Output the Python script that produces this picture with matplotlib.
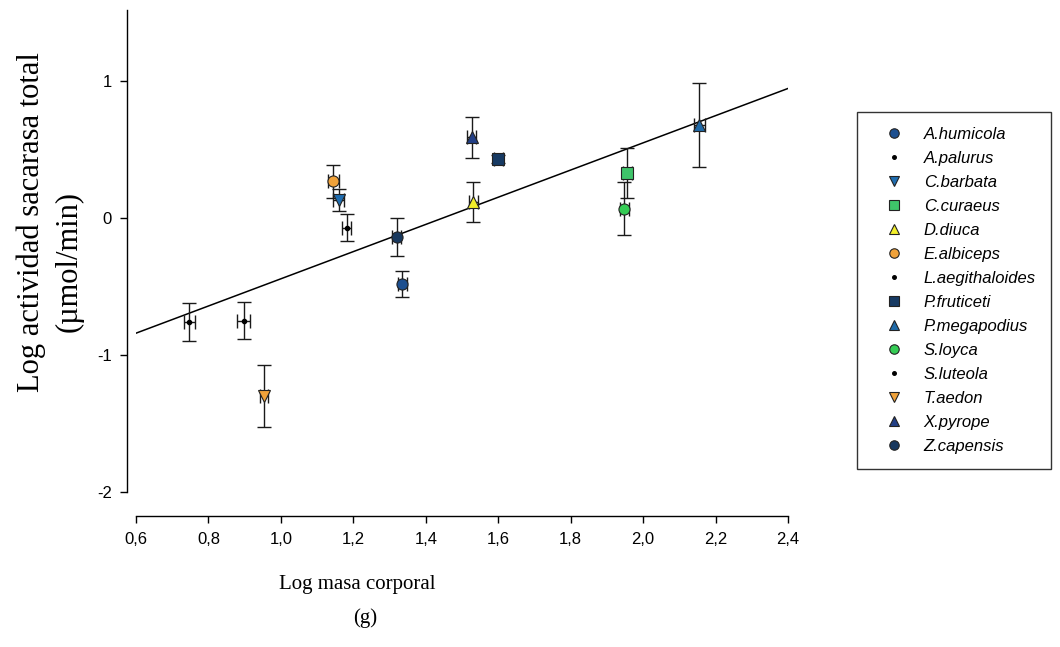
import matplotlib
matplotlib.use('Agg')
import matplotlib.pyplot as plt
import numpy as np

# species data
species = ['A.humicola', 'A.palurus', 'C.barbata', 'C.curaeus', 'D.diuca', 'E.albiceps',
	'L.aegithaloides', 'P.fruticeti', 'P.megapodius', 'S.loyca', 'S.luteola', 'T.aedon',
	'X.pyrope', 'Z.capensis']
log_mass = [1.335, 0.897, 1.160, 1.956, 1.531, 1.145, 0.747, 1.600, 2.155, 1.948, 1.182, 0.953, 1.527, 1.320]
log_act = [-0.48, -0.75, 0.13, 0.33, 0.12, 0.27, -0.76, 0.43, 0.68, 0.07, -0.07, -1.30, 0.59, -0.14]
err_act = [0.095, 0.136, 0.08, 0.185, 0.145, 0.12, 0.14, 0.03, 0.31, 0.195, 0.10, 0.225, 0.15, 0.14]
err_mass = [0.012, 0.018, 0.015, 0.012, 0.012, 0.015, 0.015, 0.012, 0.015, 0.012, 0.012, 0.012, 0.012, 0.012]
markers = ['o', '.', 'v', 's', '^', 'o', '.', 's', '^', 'o', '.', 'v', '^', 'o']
colors = ['#1d4f8f', 'black', '#1f6db0', '#3fc46a', '#f2ee2a', '#f0a23a', 'black', '#173a63',
	'#1f6aa8', '#35cc55', 'black', '#f0a23a', '#223f86', '#18385e']

# regression line
reg_x = [0.6, 2.4]
reg_slope = 0.993
reg_icpt = -1.436

plt.rcParams['font.family'] = ['Liberation Sans', 'DejaVu Sans']
fig = plt.figure(figsize=(10.6, 6.47), dpi=100)
ax = fig.add_axes([0.1283, 0.2396, 0.6151, 0.7449])

rx = np.array(reg_x)
ax.plot(rx, reg_icpt + reg_slope*rx, color='black', lw=1.1, zorder=1)

for i in range(len(species)):
	ax.errorbar(log_mass[i], log_act[i], yerr=err_act[i], xerr=err_mass[i], fmt='none',
		ecolor='#1a1a1a', elinewidth=1.0, capsize=5, capthick=1.0, zorder=2)
	if markers[i] == '.':
		ax.plot(log_mass[i], log_act[i], marker='o', ms=3, color='black', ls='none', zorder=3, label=species[i])
	else:
		ax.plot(log_mass[i], log_act[i], marker=markers[i], ms=8, mfc=colors[i], mec='#222222',
			mew=0.8, ls='none', zorder=3, label=species[i])

ax.set_xlim(0.6, 2.4)
ax.set_ylim(-2, 1.52)
ax.spines['top'].set_visible(False)
ax.spines['right'].set_visible(False)
ax.spines['left'].set_position(('outward', 6.5))
ax.spines['bottom'].set_position(('outward', 17))
ax.spines['left'].set_linewidth(1.0)
ax.spines['bottom'].set_linewidth(1.0)

xt = np.round(np.arange(0.6, 2.41, 0.2), 1)
ax.set_xticks(xt)
ax.set_xticklabels([f'{v:.1f}'.replace('.', ',') for v in xt])
yt = [-2, -1, 0, 1]
ax.set_yticks(yt)
ax.set_yticklabels([str(v) for v in yt])
ax.tick_params(direction='out', length=5, width=1, labelsize=12)
ax.tick_params(axis='x', pad=7)
ax.tick_params(axis='y', pad=6)

# axis titles placed as in the scanned figure
serif = ['Liberation Serif']
fig.text(357/1060, 1-585/647, 'Log masa corporal', family=serif, fontsize=15, ha='center', va='center')
fig.text(365/1060, 1-618/647, '(g)', family=serif, fontsize=15, ha='center', va='center')
fig.text(31/1060, 1-222/647, 'Log actividad sacarasa total', family=serif, fontsize=22,
	rotation=90, ha='center', va='center')
fig.text(69/1060, 1-261/647, '(µmol/min)', family=serif, fontsize=22,
	rotation=90, ha='center', va='center')

leg = ax.legend(loc='upper left', bbox_to_anchor=(0.8085, 0.827), bbox_transform=fig.transFigure,
	borderaxespad=0, frameon=True, fancybox=False, edgecolor='black',
	prop={'style': 'italic', 'size': 12}, handletextpad=0.5, labelspacing=0.54,
	borderpad=0.9, markerscale=0.85, handlelength=2.6)
leg.get_frame().set_linewidth(1.0)

fig.savefig('out.png', dpi=100)
